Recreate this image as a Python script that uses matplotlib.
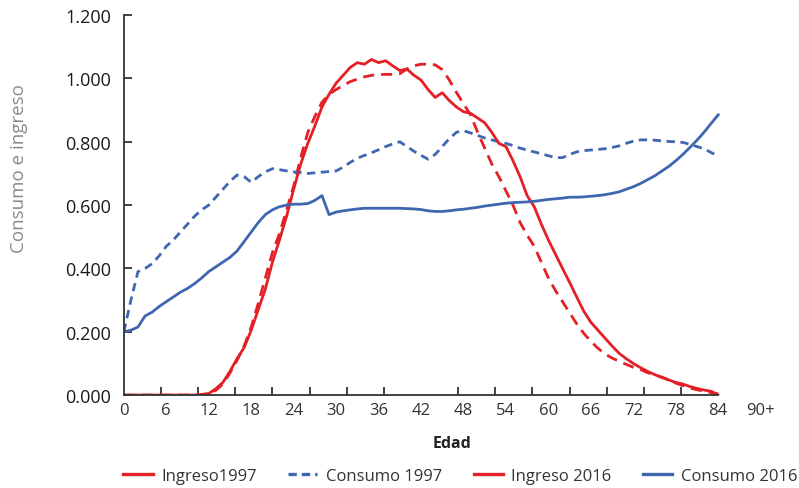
import matplotlib.pyplot as plt
from matplotlib.lines import Line2D
import numpy as np

# edades 0..84
edades = np.arange(85)

consumo_2016 = [0.200, 0.205, 0.215, 0.250, 0.262, 0.280, 0.295, 0.310, 0.325, 0.337,
                0.352, 0.370, 0.390, 0.405, 0.420, 0.435, 0.455, 0.485, 0.515, 0.545,
                0.570, 0.585, 0.595, 0.600, 0.603, 0.603, 0.605, 0.615, 0.630, 0.570,
                0.578, 0.582, 0.585, 0.588, 0.590, 0.590, 0.590, 0.590, 0.590, 0.590,
                0.589, 0.588, 0.586, 0.582, 0.580, 0.580, 0.582, 0.585, 0.587, 0.590,
                0.593, 0.597, 0.600, 0.603, 0.606, 0.608, 0.609, 0.610, 0.612, 0.615,
                0.618, 0.620, 0.622, 0.625, 0.625, 0.626, 0.628, 0.630, 0.633, 0.637,
                0.642, 0.650, 0.658, 0.668, 0.680, 0.692, 0.707, 0.722, 0.740, 0.760,
                0.782, 0.805, 0.830, 0.858, 0.885]

consumo_1997 = [0.200, 0.300, 0.390, 0.400, 0.415, 0.440, 0.470, 0.490, 0.515, 0.540,
                0.565, 0.585, 0.600, 0.625, 0.650, 0.675, 0.695, 0.690, 0.672, 0.690,
                0.705, 0.715, 0.712, 0.708, 0.705, 0.703, 0.700, 0.702, 0.704, 0.706,
                0.708, 0.720, 0.735, 0.748, 0.757, 0.765, 0.775, 0.785, 0.793, 0.800,
                0.785, 0.770, 0.757, 0.745, 0.760, 0.785, 0.810, 0.830, 0.835, 0.828,
                0.820, 0.812, 0.806, 0.800, 0.795, 0.788, 0.780, 0.774, 0.768, 0.762,
                0.756, 0.750, 0.750, 0.760, 0.768, 0.772, 0.774, 0.776, 0.778, 0.782,
                0.787, 0.795, 0.802, 0.806, 0.806, 0.805, 0.803, 0.801, 0.800, 0.798,
                0.792, 0.785, 0.778, 0.766, 0.755]

ingreso_2016 = [0, 0, 0, 0, 0, 0, 0, 0, 0, 0,
                0, 0.002, 0.005, 0.020, 0.040, 0.075, 0.115, 0.150, 0.205, 0.270,
                0.335, 0.420, 0.490, 0.565, 0.650, 0.730, 0.795, 0.850, 0.910, 0.950,
                0.985, 1.010, 1.035, 1.050, 1.045, 1.060, 1.050, 1.056, 1.040, 1.025,
                1.030, 1.010, 0.995, 0.965, 0.940, 0.955, 0.930, 0.910, 0.895, 0.890,
                0.875, 0.860, 0.830, 0.795, 0.785, 0.740, 0.690, 0.630, 0.595, 0.540,
                0.490, 0.445, 0.400, 0.356, 0.310, 0.265, 0.230, 0.205, 0.180, 0.155,
                0.132, 0.115, 0.100, 0.087, 0.075, 0.065, 0.056, 0.048, 0.040, 0.035,
                0.027, 0.021, 0.016, 0.012, 0.000]

ingreso_1997 = [0, 0, 0, 0, 0, 0, 0, 0, 0, 0,
                0, 0, 0.005, 0.015, 0.035, 0.070, 0.110, 0.155, 0.215, 0.290,
                0.370, 0.450, 0.510, 0.585, 0.660, 0.750, 0.830, 0.880, 0.925, 0.950,
                0.965, 0.978, 0.990, 0.998, 1.005, 1.010, 1.012, 1.013, 1.013, 1.015,
                1.030, 1.040, 1.045, 1.045, 1.043, 1.028, 0.995, 0.956, 0.920, 0.885,
                0.830, 0.780, 0.730, 0.690, 0.645, 0.600, 0.545, 0.505, 0.470, 0.420,
                0.370, 0.330, 0.295, 0.260, 0.225, 0.195, 0.170, 0.148, 0.130, 0.117,
                0.107, 0.097, 0.088, 0.081, 0.071, 0.064, 0.057, 0.048, 0.038, 0.030,
                0.022, 0.017, 0.012, 0.008, 0.004]

etiquetas_x = ['0', '6', '12', '18', '24', '30', '36', '42', '48', '54',
               '60', '66', '72', '78', '84', '90+']
etiquetas_y = ['0.000', '0.200', '0.400', '0.600', '0.800', '1.000', '1.200']

rojo = '#e41f26'
azul = '#3f66b0'

plt.rcParams['font.family'] = ['Open Sans', 'DejaVu Sans']

fig = plt.figure(figsize=(7.99, 4.89), dpi=100)
ax = fig.add_axes([0.155, 0.190, 0.797, 0.777])

lw = 2.0
ax.plot(edades, ingreso_1997, color=rojo, lw=lw, dashes=(4, 2.5))
ax.plot(edades, consumo_1997, color=azul, lw=lw, dashes=(3, 2))
ax.plot(edades, ingreso_2016, color=rojo, lw=lw)
ax.plot(edades, consumo_2016, color=azul, lw=lw)

ax.set_xlim(0, 90)
ax.set_ylim(0, 1.2)

for s in ['top', 'right']:
    ax.spines[s].set_visible(False)
ax.spines['bottom'].set_bounds(0, 84)
for s in ['left', 'bottom']:
    ax.spines[s].set_color('#333333')
    ax.spines[s].set_linewidth(1.3)

ax.set_xticks(np.arange(0, 91, 6))
ax.set_xticklabels(etiquetas_x)
ax.set_xticks(np.linspace(0, 84, 17), minor=True)
ax.tick_params(axis='x', which='major', length=0, pad=5, labelsize=12,
               labelcolor='#333333')
ax.tick_params(axis='x', which='minor', direction='in', length=5.5,
               width=1.3, color='#333333')

ax.set_yticks(np.arange(0, 1.21, 0.2))
ax.set_yticklabels(etiquetas_y)
ax.tick_params(axis='y', direction='in', length=5.5, width=1.3, color='#333333',
               pad=9, labelsize=13, labelcolor='#1a1a1a')

ax.set_xlabel('Edad', fontsize=11.5, fontweight='bold', color='#222222')
ax.xaxis.set_label_coords(0.515, -0.105)
ax.set_ylabel('Consumo e ingreso', fontsize=13.5, color='#8a8a8a')
ax.yaxis.set_label_coords(-0.150, 0.60)

handles = [Line2D([], [], color=rojo, lw=2.4),
           Line2D([], [], color=azul, lw=2.4, dashes=(2.5, 1.5)),
           Line2D([], [], color=rojo, lw=2.4),
           Line2D([], [], color=azul, lw=2.4)]
labels = ['Ingreso1997', 'Consumo 1997', 'Ingreso 2016', 'Consumo 2016']
fig.legend(handles, labels, loc='center', bbox_to_anchor=(0.576, 0.024),
           ncol=4, frameon=False, fontsize=12, handlelength=1.75,
           handletextpad=0.5, columnspacing=1.9, labelcolor='#333333')

fig.savefig('out.png', dpi=100)
